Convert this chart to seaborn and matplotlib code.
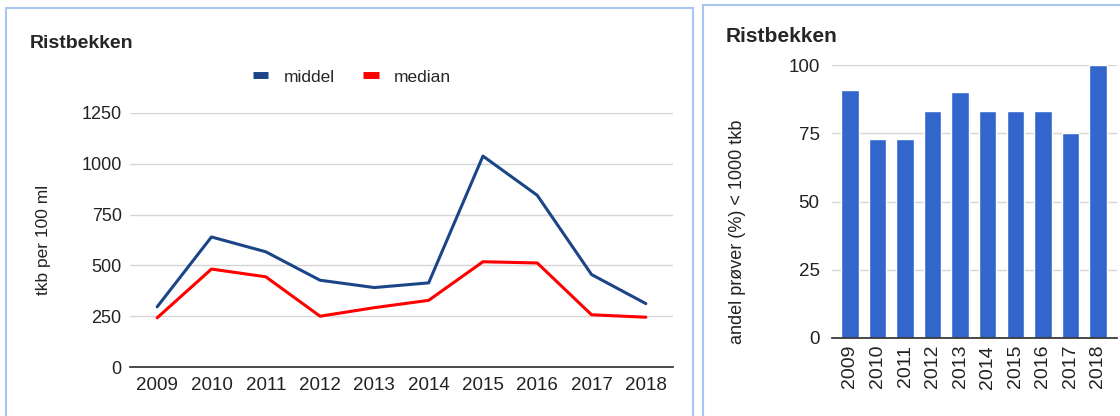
import pandas as pd
import seaborn as sns
import matplotlib.pyplot as plt
from matplotlib.patches import Rectangle
from matplotlib.lines import Line2D

# Data
years = [2009, 2010, 2011, 2012, 2013, 2014, 2015, 2016, 2017, 2018]
middel = [296, 640, 567, 427, 391, 414, 1038, 845, 455, 312]
median = [242, 482, 444, 250, 292, 328, 518, 512, 257, 245]
andel = [91, 73, 73, 83, 90, 83, 83, 83, 75, 100]

sns.set_theme(style="white")
plt.rcParams['font.family'] = ['Liberation Sans', 'DejaVu Sans']

W, H = 1120, 416
fig = plt.figure(figsize=(W / 100, H / 100), dpi=100)

def px_axes(left, top, right, bottom):
    return fig.add_axes([left / W, 1 - bottom / H, (right - left) / W, (bottom - top) / H])

# panel borders
border = '#a9c5f0'
fig.patches.append(Rectangle((6 / W, -0.1), 687 / W, 1.1 - 8 / H, transform=fig.transFigure,
                             fill=False, edgecolor=border, lw=1.5))
fig.patches.append(Rectangle((703 / W, -0.1), 0.5, 1.1 - 5 / H, transform=fig.transFigure,
                             fill=False, edgecolor=border, lw=1.5))

# ---- left: line chart
df = pd.DataFrame({'year': years * 2,
                   'value': middel + median,
                   'serie': ['middel'] * len(years) + ['median'] * len(years)})
colors = {'middel': '#1c4587', 'median': '#ff0000'}

ax1 = px_axes(130, 113, 673, 367)
sns.lineplot(data=df, x='year', y='value', hue='serie', palette=colors, lw=2.2,
             legend=False, ax=ax1)
ax1.set_xlim(2008.5, 2018.5)
ax1.set_ylim(0, 1250)
ax1.set_yticks([0, 250, 500, 750, 1000, 1250])
ax1.set_xticks(years)
ax1.grid(axis='y', color='#d6d6d6', lw=1)
ax1.set_axisbelow(True)
for s in ['top', 'right', 'left']:
    ax1.spines[s].set_visible(False)
ax1.spines['bottom'].set_color('#333333')
ax1.tick_params(axis='y', labelsize=13, pad=6, length=0, labelcolor='#222222')
ax1.tick_params(axis='x', labelsize=13.5, pad=7, length=0, labelcolor='#222222')
ax1.set_xlabel('')
ax1.set_ylabel('tkb per 100 ml', fontsize=12.5, color='#222222', labelpad=22)
fig.text(30 / W, 1 - 43 / H, 'Ristbekken', fontsize=14, fontweight='bold', va='center')

handles = [Line2D([], [], color=colors[k], lw=5, solid_capstyle='butt') for k in ['middel', 'median']]
fig.legend(handles, ['middel', 'median'], loc='center', bbox_to_anchor=(352 / W, 1 - 77 / H),
           ncol=2, frameon=False, fontsize=12.5, handlelength=0.9, handletextpad=0.9,
           columnspacing=1.6)

# ---- right: bar chart
ax2 = px_axes(832, 65, 1117, 338)
sns.barplot(x=[str(y) for y in years], y=andel, color='#3366cc', saturation=1,
            width=0.63, ax=ax2)
ax2.set_xlim(-0.65, 9.69)
ax2.set_ylim(0, 100)
ax2.set_yticks([0, 25, 50, 75, 100])
ax2.grid(axis='y', color='#d6d6d6', lw=1)
ax2.set_axisbelow(True)
for s in ['top', 'right', 'left']:
    ax2.spines[s].set_visible(False)
ax2.spines['bottom'].set_color('#333333')
ax2.tick_params(axis='y', labelsize=13.5, pad=9, length=0, labelcolor='#222222')
ax2.tick_params(axis='x', labelsize=14, pad=5, length=0, labelrotation=90, labelcolor='#222222')
ax2.set_ylabel('andel prøver (%) < 1000 tkb', fontsize=13, color='#222222', labelpad=10)
ax2.yaxis.set_label_coords(-0.3, 0.39)
fig.text(726 / W, 1 - 36 / H, 'Ristbekken', fontsize=15, fontweight='bold', va='center')

fig.savefig('out.png', dpi=100)
